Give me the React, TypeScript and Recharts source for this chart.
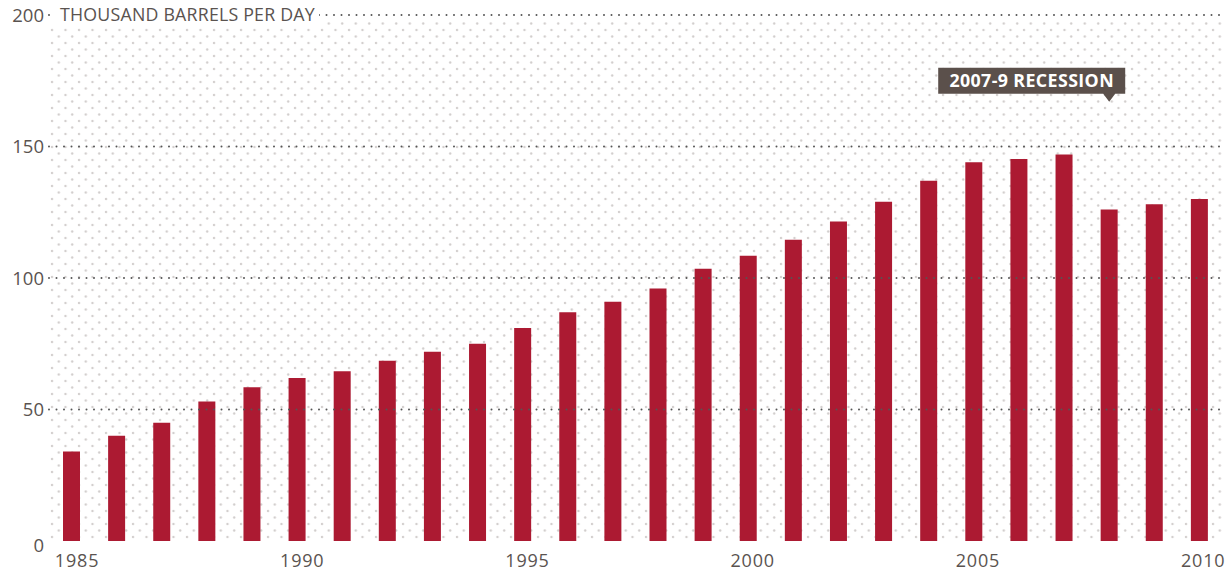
import React from "react"
import { Bar, BarChart, XAxis, YAxis, ReferenceLine, ReferenceDot } from "recharts"

// Years on the x axis
const years = [
    1985, 1986, 1987, 1988, 1989, 1990, 1991, 1992, 1993, 1994, 1995, 1996, 1997,
    1998, 1999, 2000, 2001, 2002, 2003, 2004, 2005, 2006, 2007, 2008, 2009, 2010,
]

// Thousand barrels per day
const barrels = [
    34, 40, 45, 53, 58.5, 62, 64.5, 68.5, 72, 75, 81, 87, 91,
    96, 103.5, 108.5, 114.5, 121.5, 129, 137, 144, 145.2, 147, 126, 128, 130,
]

const yTicks = [0, 50, 100, 150, 200]
const gridValues = [50, 100, 150, 200]

const recession = { label: "2007-9 RECESSION", year: 2008, at: 167 }

const data = years.map((year, i) => ({ year, value: barrels[i] }))

const FONT = "'Open Sans', sans-serif"
const TEXT = "#5a5350"
const BAR = "#ac1a32"

function YTick(props: any) {
    const { x, y, payload } = props
    const v = payload.value
    return (
        <g>
            <text x={x + 3} y={y + (v === 0 ? 4 : 0)} dy={6.5} textAnchor="end" fontSize={18.5} fill={TEXT} fontFamily={FONT}>
                {v}
            </text>
            {v === 200 && (
                <g>
                    <rect x={x + 14} y={y - 10} width={264} height={20} fill="#fff" />
                    <text x={x + 19} y={y} dy={6} fontSize={17.8} fill={TEXT} fontFamily={FONT} letterSpacing={0.2}>
                        THOUSAND BARRELS PER DAY
                    </text>
                </g>
            )}
        </g>
    )
}

function XTick(props: any) {
    const { x, y, payload, index } = props
    return (
        <text
            x={x + 5.5 - 0.36 * index}
            y={y}
            dy={18}
            textAnchor="middle"
            fontSize={18}
            fill={TEXT}
            fontFamily={FONT}
            letterSpacing={0.8}
        >
            {payload.value}
        </text>
    )
}

function Callout(props: any) {
    const { cx, cy } = props
    if (cx == null || cy == null) return null
    const left = cx - 171
    const right = cx + 16
    const bottom = cy - 8
    const top = cy - 34
    return (
        <g>
            <path
                d={`M${left},${top} H${right} V${bottom} H${cx + 6} L${cx},${cy} L${cx - 6},${bottom} H${left} Z`}
                fill="#5b504b"
            />
            <text
                x={(left + right) / 2}
                y={(top + bottom) / 2}
                dy={6.3}
                textAnchor="middle"
                fontSize={17.8}
                fontWeight="bold"
                fill="#fff"
                fontFamily={FONT}
                letterSpacing={0.4}
            >
                {recession.label}
            </text>
        </g>
    )
}

export default function App() {
    return (
        <div style={{ position: "absolute", left: 0, top: 0, width: 1225, height: 573, background: "#fff" }}>
            <BarChart width={1225} height={573} data={data} margin={{ top: 15, right: 3, left: 0, bottom: 0 }}>
                <defs>
                    <pattern id="dots" width={13.5} height={13} patternUnits="userSpaceOnUse" x={49} y={27}>
                        <circle cx={3} cy={3} r={1.2} fill="#d2cecd" />
                        <circle cx={9.75} cy={9.5} r={1.2} fill="#d2cecd" />
                    </pattern>
                </defs>
                <rect x={49} y={22} width={1173} height={519} fill="url(#dots)" />
                <XAxis
                    dataKey="year"
                    type="category"
                    interval={4}
                    height={32}
                    axisLine={false}
                    tickLine={false}
                    tick={<XTick />}
                />
                <YAxis
                    domain={[0, 200]}
                    ticks={yTicks}
                    width={49}
                    axisLine={false}
                    tickLine={false}
                    tick={<YTick />}
                />
                {gridValues.map((v) => (
                    <ReferenceLine
                        key={v}
                        y={v}
                        stroke="#555"
                        strokeWidth={2}
                        strokeDasharray="0 7.5"
                        strokeLinecap="round"
                    />
                ))}
                <Bar dataKey="value" fill={BAR} barSize={17} isAnimationActive={false} />
                <ReferenceDot x={recession.year} y={recession.at} shape={<Callout />} />
            </BarChart>
        </div>
    )
}
